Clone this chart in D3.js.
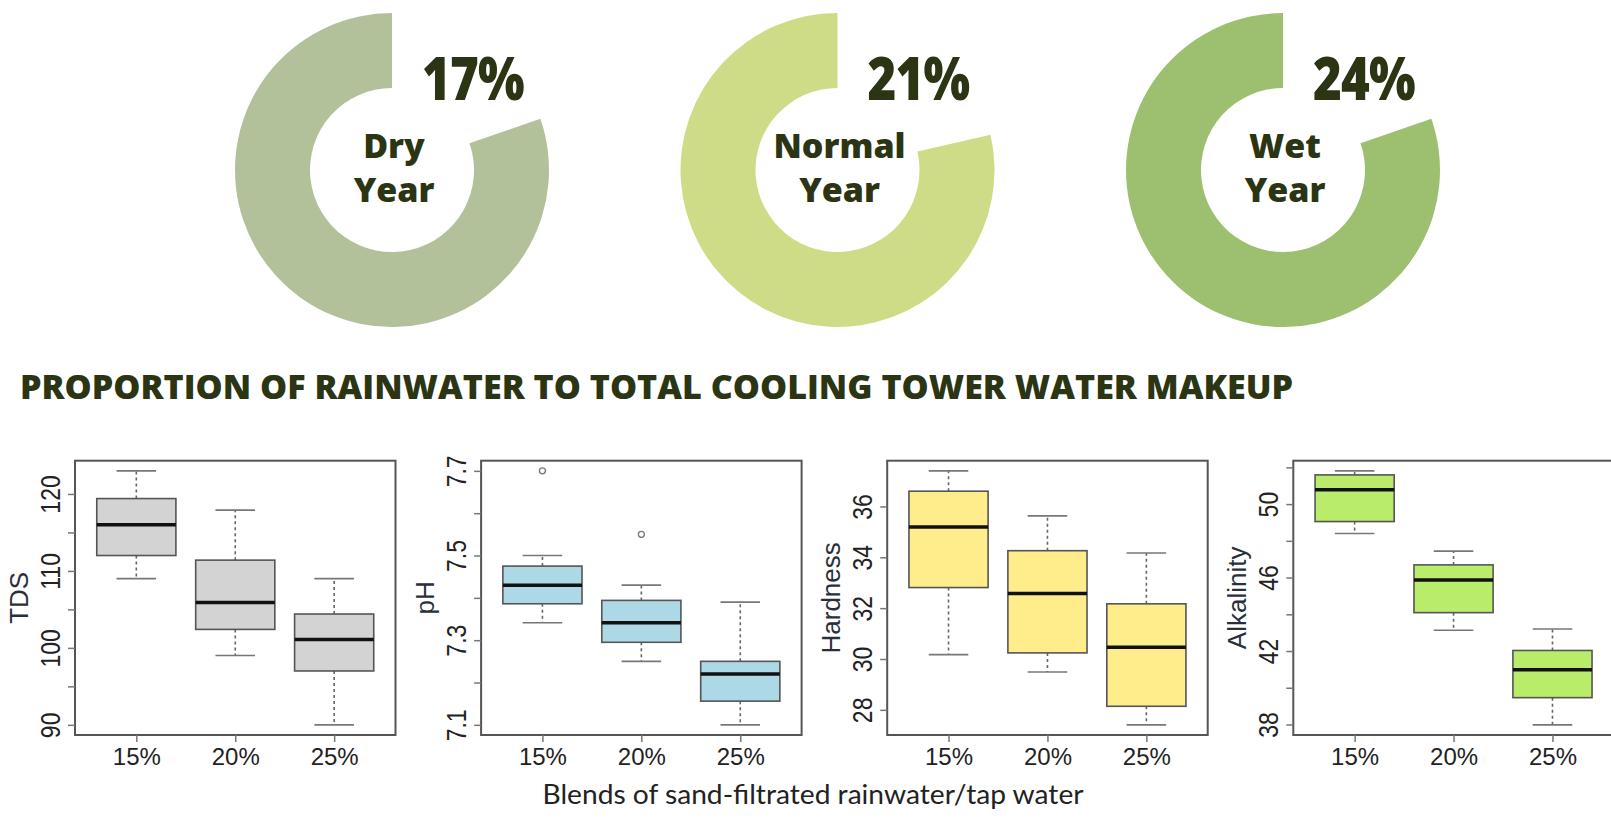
<!DOCTYPE html>
<html>
<head>
<meta charset="utf-8">
<script src="https://cdn.jsdelivr.net/npm/d3@7"></script>
<style>
  body { margin: 0; background: #fff; }
  svg { display: block; }
</style>
</head>
<body>
<svg id="chart" width="1611" height="821"></svg>
<script>
// ---------------- DATA ----------------
const yearLabels = [["Dry", "Year"], ["Normal", "Year"], ["Wet", "Year"]];
const rainShareLabels = ["17%", "21%", "24%"];
// open (missing) part of each ring, as a share of the full turn
const ringGapShare = [0.197, 0.214, 0.197];
const ringColors = ["#b3c19b", "#cedc87", "#9dc070"];
const mainTitle = "PROPORTION OF RAINWATER TO TOTAL COOLING TOWER WATER MAKEUP";

const blends = ["15%", "20%", "25%"];
const xAxisTitle = "Blends of sand-filtrated rainwater/tap water";

// five-number summaries per blend: [lower whisker, Q1, median, Q3, upper whisker]
const tdsStats = [[109, 112, 116, 119.4, 123], [99, 102.4, 105.9, 111.4, 117.9], [90, 97, 101.1, 104.4, 109]];
const tdsOutliers = [[], [], []];
const tdsTicks = [90, 95, 100, 105, 110, 115, 120];
const tdsTickLabels = [90, 100, 110, 120];

const phStats = [[7.341, 7.386, 7.43, 7.475, 7.5], [7.25, 7.295, 7.341, 7.394, 7.43], [7.1, 7.156, 7.22, 7.25, 7.39]];
const phOutliers = [[7.7], [7.55], []];
const phTicks = [7.1, 7.2, 7.3, 7.4, 7.5, 7.6, 7.7];
const phTickLabels = [7.1, 7.3, 7.5, 7.7];

const hardStats = [[30.17, 32.81, 35.19, 36.6, 37.4], [29.49, 30.24, 32.58, 34.26, 35.63], [27.41, 28.14, 30.46, 32.17, 34.17]];
const hardOutliers = [[], [], []];
const hardTicks = [28, 30, 32, 34, 36];
const hardTickLabels = [28, 30, 32, 34, 36];

const alkStats = [[48.4, 49.05, 50.78, 51.59, 51.81], [43.13, 44.09, 45.87, 46.69, 47.44], [37.98, 39.46, 40.98, 42.03, 43.2]];
const alkOutliers = [[], [], []];
const alkTicks = [38, 40, 42, 44, 46, 48, 50, 52];
const alkTickLabels = [38, 42, 46, 50];

const panelNames = ["TDS", "pH", "Hardness", "Alkalinity"];
const panelFills = ["#d3d3d3", "#add8e6", "#ffec8b", "#b9ec6a"];

// ---------------- DRAW ----------------
const svg = d3.select("#chart");
const darkText = "#2b3513";

// Donuts
const pie = d3.pie().sort(null).value(d => d);
const arc = d3.arc().innerRadius(82).outerRadius(157);
const donutX = d3.scaleLinear().domain([0, 2]).range([392, 1283]);
const donutCY = 170;

yearLabels.forEach((lines, i) => {
  const g = svg.append("g").attr("transform", `translate(${donutX(i)},${donutCY})`);
  const slices = pie([ringGapShare[i], 1 - ringGapShare[i]]);
  g.append("path").attr("d", arc(slices[1])).attr("fill", ringColors[i]);
  lines.forEach((t, j) => {
    g.append("text")
      .attr("x", 2).attr("y", -12 + j * 44)
      .attr("text-anchor", "middle")
      .attr("font-family", "'Open Sans', sans-serif")
      .attr("font-weight", 800)
      .attr("font-size", 34)
      .attr("fill", darkText)
      .text(t);
  });
  g.append("text")
    .attr("transform", "translate(30,-70) scale(0.82,1)")
    .attr("font-family", "'Open Sans', sans-serif")
    .attr("font-weight", 800)
    .attr("font-size", 60)
    .attr("letter-spacing", -1)
    .attr("fill", darkText)
    .text(rainShareLabels[i]);
});

// Main title
svg.append("text")
  .attr("x", 20).attr("y", 399)
  .attr("font-family", "'Open Sans', sans-serif")
  .attr("font-weight", 800)
  .attr("font-size", 33)
  .attr("textLength", 1273)
  .attr("lengthAdjust", "spacingAndGlyphs")
  .attr("fill", darkText)
  .text(mainTitle);

// Box plots
const panels = [
  { stats: tdsStats, out: tdsOutliers, ticks: tdsTicks, labels: tdsTickLabels },
  { stats: phStats, out: phOutliers, ticks: phTicks, labels: phTickLabels },
  { stats: hardStats, out: hardOutliers, ticks: hardTicks, labels: hardTickLabels },
  { stats: alkStats, out: alkOutliers, ticks: alkTicks, labels: alkTickLabels }
];

const frameTop = 460.7, frameBottom = 735, frameW = 320.5;
const panelLeft = d3.scaleLinear().domain([0, 3]).range([75, 1293.3]);
const n = blends.length;
const axisFont = "'Liberation Sans', Arial, sans-serif";

panels.forEach((p, k) => {
  const left = panelLeft(k);
  const allVals = p.stats.flat().concat(p.out.flat());
  const lo = d3.min(allVals), hi = d3.max(allVals), pad = 0.04 * (hi - lo);
  const y = d3.scaleLinear().domain([lo - pad, hi + pad]).range([frameBottom, frameTop]);
  const x = d3.scaleLinear().domain([0.5 - 0.04 * n, n + 0.5 + 0.04 * n]).range([left, left + frameW]);
  const g = svg.append("g");
  const boxW = x(1.4) - x(1), capW = x(1.2) - x(1);

  p.stats.forEach((s, i) => {
    const cx = x(i + 1);
    // whiskers
    g.append("line").attr("x1", cx).attr("x2", cx).attr("y1", y(s[3])).attr("y2", y(s[4]))
      .attr("stroke", "#666").attr("stroke-width", 1.6).attr("stroke-dasharray", "3,3");
    g.append("line").attr("x1", cx).attr("x2", cx).attr("y1", y(s[1])).attr("y2", y(s[0]))
      .attr("stroke", "#666").attr("stroke-width", 1.6).attr("stroke-dasharray", "3,3");
    // caps
    [s[0], s[4]].forEach(v => {
      g.append("line").attr("x1", cx - capW).attr("x2", cx + capW).attr("y1", y(v)).attr("y2", y(v))
        .attr("stroke", "#777").attr("stroke-width", 1.6);
    });
    // box
    g.append("rect").attr("x", cx - boxW).attr("width", 2 * boxW)
      .attr("y", y(s[3])).attr("height", y(s[1]) - y(s[3]))
      .attr("fill", panelFills[k]).attr("stroke", "#555").attr("stroke-width", 1.6);
    // median
    g.append("line").attr("x1", cx - boxW).attr("x2", cx + boxW).attr("y1", y(s[2])).attr("y2", y(s[2]))
      .attr("stroke", "#111").attr("stroke-width", 3.5);
    // outliers
    p.out[i].forEach(v => {
      g.append("circle").attr("cx", cx).attr("cy", y(v)).attr("r", 3)
        .attr("fill", "none").attr("stroke", "#777").attr("stroke-width", 1.3);
    });
  });

  // frame
  g.append("rect").attr("x", left).attr("y", frameTop).attr("width", frameW).attr("height", frameBottom - frameTop)
    .attr("fill", "none").attr("stroke", "#555").attr("stroke-width", 2);

  // y axis
  const yAxis = d3.axisLeft(y).tickValues(p.ticks).tickSize(7)
    .tickFormat(d => p.labels.some(l => Math.abs(l - d) < 1e-9) ? String(d) : "");
  const ya = g.append("g").attr("transform", `translate(${left},0)`).call(yAxis);
  ya.select(".domain").remove();
  ya.selectAll(".tick line").attr("stroke", "#777").attr("stroke-width", 1.5);
  ya.selectAll(".tick text")
    .attr("x", null).attr("dy", null)
    .attr("text-anchor", "middle")
    .attr("transform", "translate(-15,0) rotate(-90) scale(1,1.2)")
    .attr("font-family", axisFont).attr("font-size", 23).attr("fill", "#222");

  // x axis
  const xAxis = d3.axisBottom(x).tickValues(d3.range(1, n + 1)).tickSize(7).tickPadding(6)
    .tickFormat(d => blends[d - 1]);
  const xa = g.append("g").attr("transform", `translate(0,${frameBottom})`).call(xAxis);
  xa.select(".domain").remove();
  xa.selectAll(".tick line").attr("stroke", "#777").attr("stroke-width", 1.5);
  xa.selectAll(".tick text").attr("font-family", axisFont).attr("font-size", 24).attr("fill", "#222");

  // y title
  g.append("text")
    .attr("transform", `translate(${left - 47},${(frameTop + frameBottom) / 2}) rotate(-90)`)
    .attr("text-anchor", "middle")
    .attr("font-family", axisFont).attr("font-size", 26).attr("fill", "#2a2f3a")
    .text(panelNames[k]);
});

// shared x title
svg.append("text")
  .attr("x", 813).attr("y", 804)
  .attr("text-anchor", "middle")
  .attr("font-family", "Lato, 'Open Sans', sans-serif")
  .attr("font-size", 27)
  .attr("textLength", 541)
  .attr("lengthAdjust", "spacingAndGlyphs")
  .attr("fill", "#222")
  .text(xAxisTitle);
</script>
</body>
</html>
